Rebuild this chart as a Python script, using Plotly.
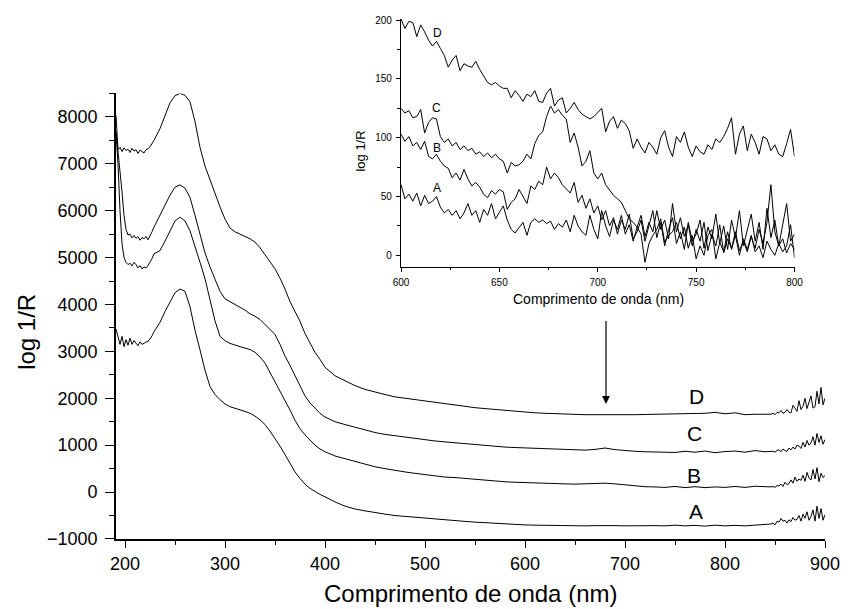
import plotly.graph_objects as go

# Wavelength grid of the full spectra (nm)
wl_main = (list(range(191, 230, 2)) + list(range(235, 401, 5))
           + list(range(410, 841, 10)) + list(range(846, 901, 2)))

spec_D = [
    8030, 7300, 7350, 7260, 7340, 7280, 7310, 7240, 7330, 7270,
    7300, 7220, 7290, 7250, 7230, 7300, 7320, 7360, 7420, 7500,
    7750, 8020, 8300, 8450, 8500, 8460, 8320, 7900, 7350, 6950,
    6650, 6370, 6080, 5820, 5630, 5550, 5500, 5450, 5400, 5330,
    5210, 5060, 4900, 4760, 4560, 4330, 4060, 3850, 3640, 3380,
    3180, 2980, 2830, 2660,
    2480, 2370, 2270, 2190, 2130, 2080, 2030, 2000, 1970, 1940,
    1910, 1880, 1850, 1820, 1800, 1780, 1760, 1740, 1720, 1700,
    1690, 1680, 1670, 1660, 1655, 1650, 1650, 1645, 1645, 1650,
    1650, 1655, 1660, 1660, 1665, 1670, 1665, 1680, 1700, 1670,
    1690, 1650, 1660, 1650,
    1660, 1680, 1650, 1700, 1690, 1740, 1680, 1700, 1760, 1700,
    1690, 1850, 1780, 1720, 1950, 1760, 1830, 2000, 1780, 1900,
    2050, 1790, 1820, 2150, 1880, 2230, 1860, 2000,
]

spec_C = [
    7700, 7300, 6800, 6400, 5900, 5600, 5480, 5500, 5420, 5470,
    5410, 5450, 5370, 5430, 5400, 5450, 5380, 5450, 5550, 5650,
    5900, 6130, 6330, 6500, 6550, 6480, 6280, 5900, 5480, 5100,
    4800, 4520, 4280, 4120, 4060, 4000, 3950, 3880, 3800, 3750,
    3680, 3580, 3480, 3360, 3150, 2900, 2700, 2480, 2250, 2050,
    1900, 1780, 1680, 1600,
    1500, 1440, 1380, 1320, 1270, 1230, 1200, 1170, 1140, 1110,
    1090, 1070, 1050, 1030, 1010, 990, 975, 960, 950, 940,
    930, 920, 910, 900, 890, 895, 910, 940, 905, 880,
    870, 860, 855, 860, 845, 870, 850, 875, 840, 865,
    875, 850, 885, 860,
    860, 870, 850, 890, 900, 860, 920, 880, 870, 940,
    900, 960, 920, 1000, 980, 930, 1060, 960, 1100, 1000,
    1050, 1180, 1000, 1250, 1060, 1200, 1020, 1120,
]

spec_B = [
    7650, 7000, 6000, 5300, 5000, 4900, 4850, 4880, 4820, 4900,
    4850, 4780, 4830, 4760, 4800, 4780, 4830, 4900, 4980, 5080,
    5150, 5350, 5580, 5780, 5860, 5780, 5570, 5250, 4900, 4550,
    4100, 3650, 3320, 3230, 3170, 3130, 3100, 3070, 3040, 2980,
    2880, 2750, 2550, 2380, 2180, 1980, 1750, 1530, 1350, 1220,
    1100, 1000, 920, 860,
    770, 710, 650, 590, 540, 500, 460, 430, 400, 370,
    340, 320, 310, 290, 270, 250, 230, 220, 210, 200,
    195, 190, 180, 175, 170, 180, 185, 190, 175, 150,
    130, 115, 110, 100, 120, 95, 115, 95, 110, 100,
    120, 100, 125, 110,
    110, 120, 100, 140, 130, 170, 120, 210, 160, 180,
    260, 190, 320, 230, 280, 250, 360, 230, 420, 300,
    260, 480, 280, 520, 220, 400, 310, 350,
]

spec_A = [
    3480, 3300, 3150, 3320, 3100, 3250, 3130, 3280, 3150, 3230,
    3170, 3120, 3200, 3150, 3170, 3200, 3210, 3260, 3330, 3420,
    3620, 3850, 4050, 4250, 4330, 4280, 3950, 3450, 3030, 2600,
    2250, 2080, 1970, 1880, 1820, 1790, 1760, 1720, 1680, 1620,
    1540, 1440, 1300, 1150, 980, 800, 600, 430, 290, 170,
    80, 10, -50, -100,
    -210, -300, -360, -400, -440, -470, -500, -520, -540, -560,
    -575, -590, -610, -625, -640, -655, -665, -680, -690, -700,
    -705, -710, -715, -720, -715, -720, -715, -710, -715, -720,
    -715, -725, -715, -720, -705, -720, -710, -725, -705, -720,
    -710, -720, -705, -690,
    -680, -660, -700, -620, -640, -560, -620, -600, -660, -590,
    -630, -540, -600, -580, -500, -620, -470, -560, -420, -600,
    -520, -380, -620, -300, -560, -350, -600, -480,
]

# Detail of the 600-800 nm region (baseline removed)
wl_inset = list(range(600, 801, 2))

inset_D = [
    201, 193, 199, 198, 186, 196, 190, 183, 178, 182,
    176, 170, 160, 166, 170, 157, 163, 161, 160, 165,
    158, 152, 147, 145, 147, 144, 142, 142, 134, 140,
    136, 131, 137, 135, 140, 131, 130, 138, 142, 127,
    132, 134, 121, 125, 130, 124, 120, 118, 116, 118,
    122, 125, 105, 114, 118, 108, 115, 112, 106, 91,
    99, 92, 87, 96, 92, 86, 100, 106, 92, 84,
    101, 96, 105, 92, 84, 93, 88, 86, 94, 90,
    99, 96, 101, 108, 117, 86, 103, 110, 89, 103,
    96, 86, 101, 99, 89, 94, 86, 84, 95, 107,
    84,
]

inset_C = [
    125, 121, 123, 117, 118, 124, 104, 113, 117, 116,
    101, 96, 99, 93, 96, 90, 93, 89, 91, 86,
    88, 84, 87, 83, 86, 82, 80, 70, 79, 76,
    77, 80, 86, 82, 95, 102, 105, 118, 127, 121,
    124, 119, 116, 96, 104, 92, 76, 80, 89, 70,
    65, 70, 60, 56, 51, 48, 45, 38, 31, 28,
    24, 18, -6, 10, 17, 22, 31, 11, 17, 20,
    28, 14, 24, 6, 17, -3, 8, 0, 17, 22,
    -3, 11, 3, 20, 5, 17, 0, 14, 5, 17,
    3, 8, -2, 12, 5, 0, 10, 3, 8, 26,
    -2,
]

inset_B = [
    103, 97, 101, 93, 96, 90, 97, 84, 82, 86,
    80, 76, 74, 66, 70, 64, 73, 65, 59, 62,
    58, 52, 49, 55, 52, 56, 54, 39, 45, 48,
    56, 50, 44, 59, 56, 63, 60, 75, 65, 70,
    66, 60, 56, 53, 62, 45, 51, 40, 48, 36,
    42, 30, 38, 25, 32, 18, 30, 22, 35, 14,
    20, 30, 12, 25, 38, 15, 28, 8, 22, 32,
    10, 20, 5, 28, 12, 18, 30, 6, 24, 14,
    35, 10, 25, 5, 30, 15, 38, 8, 22, 35,
    12, 28, 5, 40, 15, 30, 8, 25, 44, 12,
    18,
]

inset_A = [
    60, 48, 52, 46, 53, 42, 51, 44, 46, 50,
    41, 36, 39, 34, 38, 31, 36, 44, 34, 38,
    28, 39, 34, 44, 31, 36, 42, 30, 22, 19,
    24, 28, 17, 28, 31, 28, 30, 27, 29, 22,
    27, 24, 30, 20, 34, 25, 20, 17, 34, 22,
    14, 38, 25, 16, 30, 22, 34, 18, 26, 12,
    24, 34, 16, 28, 20, 38, 22, 30, 14, 44,
    20, 32, 16, 26, 8, 22, 12, 28, 4, 18,
    8, 26, 2, 14, 6, 20, 4, 12, 3, 16,
    6, 22, 10, 28, 60, 20, 8, 14, 2, 10,
    5,
]

curve_labels = ["A", "B", "C", "D"]
main_series = [spec_A, spec_B, spec_C, spec_D]
inset_series = [inset_A, inset_B, inset_C, inset_D]
main_label_pos = [(771, -420), (769, 360), (769, 1250), (771, 2030)]
inset_label_pos = [(618.5, 57), (618.5, 91.5), (618, 125), (618.5, 189)]

FONT = "Liberation Sans, Arial, Helvetica, sans-serif"

fig = go.Figure()
for vals in main_series:
    fig.add_trace(go.Scatter(x=wl_main, y=vals, mode="lines",
                             line=dict(color="black", width=1),
                             xaxis="x", yaxis="y", showlegend=False))
for vals in inset_series:
    fig.add_trace(go.Scatter(x=wl_inset, y=vals, mode="lines",
                             line=dict(color="black", width=1),
                             xaxis="x2", yaxis="y2", showlegend=False))

annotations = []
for name, (lx, ly) in zip(curve_labels, main_label_pos):
    annotations.append(dict(x=lx, y=ly, xref="x", yref="y", text=name,
                            showarrow=False, font=dict(size=21, color="black")))
for name, (lx, ly) in zip(curve_labels, inset_label_pos):
    annotations.append(dict(x=lx, y=ly, xref="x2", yref="y2", text=name,
                            showarrow=False, font=dict(size=12, color="black")))

# arrow pointing from the inset to the 680 nm band
annotations.append(dict(x=681, y=1880, xref="x", yref="y",
                        ax=681, ay=3680, axref="x", ayref="y",
                        showarrow=True, arrowhead=2, arrowsize=1.3,
                        arrowwidth=1.2, arrowcolor="black", text="",
                        standoff=0, startstandoff=0))

# axis titles
title_style = dict(xref="paper", yref="paper", showarrow=False,
                   xanchor="center", yanchor="middle")
annotations += [
    dict(x=0.5, y=-0.1040, text="Comprimento de onda (nm)",
         font=dict(size=24, color="black"), **title_style),
    dict(x=-0.1266, y=0.395, text="log 1/R", textangle=-90,
         font=dict(size=24, color="black"), **title_style),
    dict(x=0.6805, y=0.4575, text="Comprimento de onda (nm)",
         font=dict(size=14, color="black"), **title_style),
    dict(x=0.3435, y=0.739, text="log 1/R", textangle=-90,
         font=dict(size=13, color="black"), **title_style),
]

axis_common = dict(showline=True, linecolor="black", showgrid=False,
                   zeroline=False, ticks="outside", tickcolor="black",
                   mirror=False)

fig.update_layout(
    width=850, height=609,
    margin=dict(l=116, r=15, t=10, b=70),
    paper_bgcolor="white", plot_bgcolor="white",
    font=dict(family=FONT, color="black"),
    showlegend=False,
    annotations=annotations,
    xaxis=dict(**axis_common, domain=[0, 1], range=[191, 900],
               tickmode="linear", tick0=200, dtick=100, ticklen=7,
               linewidth=1.6, tickwidth=1.4,
               tickfont=dict(size=18), ticklabelstandoff=1,
               minor=dict(ticks="outside", dtick=50, tick0=0, ticklen=4,
                          tickcolor="black", tickwidth=1.4),
               anchor="y"),
    yaxis=dict(**axis_common, domain=[0, 0.84877], range=[-1000, 8500],
               tickmode="linear", tick0=0, dtick=1000, ticklen=9,
               linewidth=1.6, tickwidth=1.4,
               tickfont=dict(size=18), ticklabelstandoff=4,
               minor=dict(ticks="outside", dtick=500, tick0=0, ticklen=5,
                          tickcolor="black", tickwidth=1.4),
               anchor="x"),
    xaxis2=dict(**axis_common, domain=[0.402, 0.957], range=[600, 800],
                tickmode="linear", tick0=600, dtick=50, ticklen=4,
                linewidth=1.2, tickwidth=1,
                tickfont=dict(size=10), ticklabelstandoff=2,
                minor=dict(ticks="outside", dtick=25, tick0=0, ticklen=2,
                           tickcolor="black", tickwidth=1),
                anchor="y2"),
    yaxis2=dict(**axis_common, domain=[0.518, 0.9905], range=[-10, 201],
                tickmode="linear", tick0=0, dtick=50, ticklen=4,
                linewidth=1.2, tickwidth=1,
                tickfont=dict(size=10), ticklabelstandoff=2,
                minor=dict(ticks="outside", dtick=25, tick0=0, ticklen=3,
                           tickcolor="black", tickwidth=1),
                anchor="x2"),
)

fig.write_html("out.html")
